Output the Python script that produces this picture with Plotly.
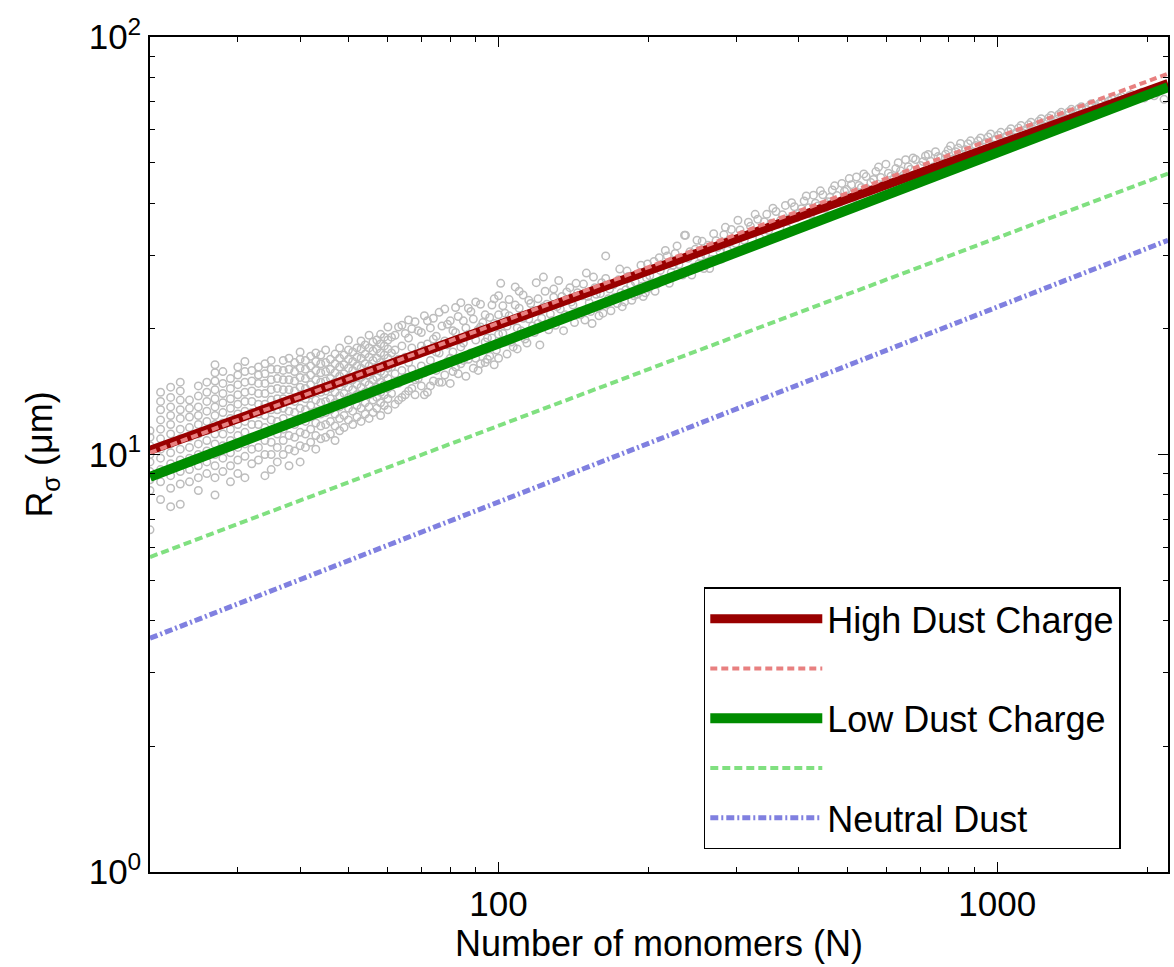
import plotly.graph_objects as go

# ---- measured aggregate sizes: small-N aggregates fall on integer columns ----
col_n = list(range(20, 61))
col_r = [
    [6.6, 8.2, 8.7, 9.1, 9.6, 10.0, 10.5, 11.0, 11.4],
    [7.8, 8.6, 9.2, 9.8, 10.3, 10.9, 11.5, 12.1, 12.8, 13.4, 14.1],
    [7.5, 8.3, 8.9, 9.5, 10.1, 10.6, 11.2, 11.8, 12.4, 13.0, 13.7, 14.5],
    [7.6, 8.5, 9.1, 9.7, 10.3, 10.9, 11.5, 12.2, 12.8, 13.5, 14.2, 14.9],
    [8.6, 9.2, 9.8, 10.4, 11.0, 11.6, 12.3, 12.9, 13.5],
    [8.2, 8.8, 9.4, 10.0, 10.6, 11.2, 11.8, 12.4, 13.0, 13.8, 14.6],
    [9.0, 9.6, 10.2, 10.8, 11.4, 12.0, 12.7, 13.4, 14.1, 14.9],
    [8.0, 8.8, 9.4, 10.0, 10.6, 11.2, 11.8, 12.4, 13.0, 13.6, 14.3, 15.0, 15.7, 16.4],
    [9.1, 9.8, 10.5, 11.2, 11.9, 12.6, 13.3, 14.0, 14.8, 15.8],
    [8.6, 9.4, 10.1, 10.8, 11.5, 12.2, 12.9, 13.6, 14.4, 15.2],
    [9.0, 9.7, 10.4, 11.1, 11.8, 12.5, 13.2, 13.9, 14.7, 15.5, 16.2],
    [8.8, 9.9, 10.6, 11.3, 12.0, 12.7, 13.4, 14.1, 14.9, 15.8, 16.7],
    [9.5, 10.3, 11.0, 11.8, 12.6, 13.4, 14.2, 15.0, 15.9],
    [9.7, 10.4, 11.1, 11.8, 12.5, 13.2, 14.0, 14.8, 15.5, 16.2],
    [8.9, 10.0, 10.8, 11.6, 12.4, 13.2, 14.0, 14.8, 15.6, 16.5],
    [9.2, 10.0, 10.7, 11.4, 12.1, 12.8, 13.5, 14.3, 15.1, 16.0, 16.8],
    [9.6, 10.4, 11.2, 12.0, 12.8, 13.6, 14.4, 15.2, 16.0],
    [10.0, 10.8, 11.5, 12.2, 12.9, 13.6, 14.3, 15.1, 15.9, 16.8],
    [9.4, 10.3, 11.1, 11.9, 12.7, 13.5, 14.3, 15.1, 16.0, 17.0],
    [10.2, 11.0, 11.8, 12.6, 13.4, 14.2, 15.0, 15.8, 16.6],
    [9.6, 10.5, 11.3, 12.1, 12.9, 13.7, 14.5, 15.3, 16.1, 16.9, 17.6],
    [10.4, 11.2, 12.0, 12.8, 13.6, 14.4, 15.2, 16.0, 16.8],
    [10.7, 11.5, 12.3, 13.1, 13.9, 14.7, 15.5, 16.3, 17.2],
    [10.3, 11.1, 11.9, 12.7, 13.5, 14.3, 15.1, 15.9, 16.7, 17.5],
    [10.9, 11.7, 12.5, 13.3, 14.1, 14.9, 15.7, 16.5, 17.3],
    [11.0, 11.8, 12.6, 13.4, 14.2, 15.0, 15.8, 16.6, 17.8],
    [11.2, 12.0, 12.8, 13.6, 14.4, 15.2, 16.0, 16.9],
    [10.8, 11.7, 12.5, 13.3, 14.1, 14.9, 15.7, 16.5, 17.4],
    [11.4, 12.2, 13.0, 13.8, 14.6, 15.4, 16.2, 17.0, 18.0],
    [11.6, 12.4, 13.2, 14.0, 14.8, 15.6, 16.4, 17.3],
    [12.1, 12.9, 13.7, 14.5, 15.3, 16.1, 16.9, 17.8, 18.8],
    [11.8, 12.7, 13.5, 14.3, 15.1, 15.9, 16.7, 17.6],
    [12.3, 13.1, 13.9, 14.7, 15.5, 16.3, 17.1, 18.0],
    [12.0, 12.9, 13.7, 14.5, 15.3, 16.1, 17.0, 17.9, 18.7],
    [12.5, 13.3, 14.1, 14.9, 15.7, 16.5, 17.4, 18.3],
    [12.2, 13.0, 13.9, 14.7, 15.5, 16.3, 17.1, 18.0, 19.3],
    [12.6, 13.5, 14.3, 15.1, 15.9, 16.8, 17.7, 18.6],
    [12.9, 13.7, 14.5, 15.3, 16.1, 17.0, 17.9, 18.8],
    [12.4, 13.3, 14.1, 14.9, 15.8, 16.6, 17.5, 18.4, 19.4],
    [13.1, 13.9, 14.7, 15.6, 16.4, 17.3, 18.2, 19.1],
    [12.8, 13.6, 14.4, 15.2, 16.1, 17.0, 17.9, 18.8, 20.2],
]

# ---- larger aggregates (N, R) ----
big_n = [61, 61, 62, 62, 62, 63, 63, 64, 64, 64, 65, 65, 66, 66, 67, 67, 68, 68, 68, 69,
         70, 70, 70, 71, 71, 72, 72, 73, 73, 74, 75, 75, 76, 76, 77, 78, 78, 79, 80, 80,
         81, 82, 82, 83, 84, 85, 85, 86, 87, 88, 88, 89, 90, 90, 91, 92, 93, 94, 94, 95,
         96, 97, 98, 98, 99, 100, 100,
         102, 103, 104, 105, 106, 107, 108, 109, 110, 111, 112, 114, 115, 116, 118, 119,
         120, 121, 123, 124, 126, 127, 129, 130, 132, 133, 135, 137, 138, 140, 142, 143,
         145, 147, 149, 150, 152, 154, 156, 158, 160, 162, 164, 166, 168, 170, 173, 175,
         177, 180, 182, 185, 188, 190, 193, 195, 198, 200,
         203, 206, 210, 213, 216, 220, 224, 228, 232, 236, 240, 244, 248, 252, 256, 260,
         265, 270, 275, 280, 285, 290, 296, 302, 308, 314, 320, 327, 334, 341, 348, 355,
         363, 371, 379, 387, 396, 405, 414, 423, 432, 442, 452, 462, 472, 483, 494, 505, 516,
         528, 540, 552, 565, 578, 591, 605, 619, 633, 648, 663, 678, 694, 710, 727, 744,
         761, 779, 797, 816, 835, 854, 874, 895, 916, 937, 959, 982, 1005, 1029, 1053,
         1078, 1103, 1129, 1156, 1183, 1211, 1239, 1268, 1298, 1329, 1360, 1392, 1425,
         1458, 1492, 1527, 1563, 1600, 1638, 1676, 1716, 1756, 1797, 1839, 1882, 1926,
         1971, 2017, 2064, 2112]
big_r = [14.0, 17.5, 13.2, 15.6, 19.3, 14.8, 16.9, 13.7, 18.2, 20.4, 15.3, 17.1, 14.2, 19.0,
         16.0, 18.0, 13.9, 15.1, 20.8, 17.4, 14.6, 16.3, 19.6, 15.7, 21.5, 14.1, 18.4, 16.8,
         20.1, 15.0, 17.6, 19.2, 14.9, 21.9, 16.4, 18.7, 15.5, 20.5, 14.8, 17.0, 19.8, 16.2,
         22.5, 15.6, 18.1, 20.9, 16.8, 15.4, 19.4, 17.5, 22.0, 16.1, 18.8, 23.2, 15.9, 20.2,
         17.9, 16.6, 21.6, 19.0, 17.2, 22.8, 16.4, 20.6, 18.4, 24.0, 17.0,
         19.5, 21.8, 17.4, 23.5, 18.6, 20.9, 25.2, 17.9, 22.4, 19.8, 24.1, 18.5, 21.1, 23.0,
         19.6, 25.8, 20.6, 18.3, 22.6, 24.6, 19.9, 21.7, 23.8, 20.4, 26.1, 22.3, 19.8, 24.5,
         21.4, 23.2, 20.7, 25.7, 22.0, 24.0, 21.0, 27.2, 23.1, 20.6, 25.1, 22.5, 24.3, 21.8,
         26.4, 23.6, 22.1, 25.5, 23.0, 27.8, 22.6, 24.8, 26.7, 23.4, 25.9, 24.2, 28.4, 23.9,
         26.5, 25.0,
         27.9, 24.6, 29.6, 26.3, 30.8, 25.7, 28.4, 31.6, 27.1, 33.5, 29.5, 26.9, 31.0, 28.6,
         32.4, 30.1, 27.9, 33.8, 31.3, 29.4, 35.0, 32.2, 30.3, 36.4, 33.6, 31.4, 35.2, 37.6,
         33.0, 36.1, 34.4, 38.9, 35.6, 37.5, 34.8, 40.1, 36.9, 38.8, 41.6, 37.6, 40.0, 42.8,
         38.9, 41.3, 44.0, 40.2, 42.7, 45.8, 41.3,
         44.1, 47.0, 42.6, 45.6, 48.8, 44.2, 47.2, 45.5, 50.0, 46.6, 48.9, 51.3, 47.4, 50.3,
         52.3, 48.8, 51.7, 49.9, 53.6, 51.0, 54.2, 52.3, 55.5, 53.1, 56.4, 54.5, 57.6, 55.1,
         58.2, 56.4, 59.3, 57.6, 60.5, 58.8, 61.6, 60.0, 62.8, 61.1, 64.0, 62.3, 65.2, 63.6,
         66.2, 64.6, 67.4, 65.6, 68.2, 66.9, 69.2, 67.9, 70.3, 68.8, 71.4, 69.8, 72.3, 70.7,
         73.2, 71.4, 73.9, 72.3, 74.6]

# ---- second batch of larger aggregates (N, R) ----
more_n = [61, 61, 62, 63, 63, 64, 65, 65, 66, 66, 67, 67, 68, 69, 69, 70, 71, 71, 72, 72,
          73, 74, 74, 75, 76, 77, 77, 78, 79, 79, 80, 81, 81, 82, 83, 84, 84, 85, 86, 87,
          87, 88, 89, 90, 91, 92, 92, 93, 94, 95, 96, 97, 98, 99, 100, 100,
          101, 102, 103, 104, 105, 107, 108, 109, 110, 112, 113, 115, 117, 118, 120, 122,
          123, 125, 128, 129, 131, 134, 136, 139, 141, 144, 146, 148, 151, 153, 155, 157,
          159, 161, 164, 165, 167, 171, 174, 176, 179, 181, 184, 187, 191, 194, 197, 199,
          201, 205, 208, 211, 215, 218, 222, 226, 230, 234, 237, 242, 246, 250, 254, 258,
          263, 268, 273, 278, 283, 288, 293, 299, 305, 311, 317, 324, 331, 338, 345, 352,
          360, 368, 376, 384, 392, 401, 410, 419, 428, 437, 447, 457, 467, 477, 488, 499,
          510, 522, 534, 546, 558, 571, 584,
          598, 612, 626, 640, 655, 670, 686, 702, 718, 735, 752, 770, 788, 806, 825, 844,
          864, 884, 905, 926, 948, 970, 993, 1017, 1041, 1065, 1090, 1116, 1142, 1169,
          1197, 1225, 1254, 1283, 1313, 1344, 1376, 1408, 1441, 1475, 1509, 1545, 1581,
          1619, 1657, 1696, 1736, 1776, 1818, 1861, 1904, 1949, 1994, 2040, 2088, 2137, 2160]
more_r = [16.2, 19.1, 17.8, 13.5, 20.2, 15.9, 13.9, 19.5, 16.6, 21.0, 14.4, 20.0, 17.3, 15.2,
          19.8, 18.2, 13.9, 17.8, 16.0, 20.9, 14.6, 18.9, 21.2, 15.9, 17.5, 14.9, 20.3, 22.3,
          16.7, 18.3, 20.9, 15.8, 17.6, 19.6, 21.4, 16.5, 23.1, 18.5, 20.1, 16.9, 22.4, 19.3,
          21.1, 17.0, 19.9, 16.5, 22.9, 20.7, 18.6, 16.9, 21.3, 19.0, 23.6, 17.8, 21.6, 19.4,
          25.7, 22.7, 18.6, 20.3, 21.5, 18.1, 22.8, 20.1, 24.6, 21.2, 18.9, 23.4, 20.3, 22.1,
          23.6, 21.2, 26.6, 22.9, 20.9, 24.9, 22.6, 23.9, 21.6, 25.1, 22.8, 24.4, 21.6, 25.6,
          23.9, 22.0, 26.6, 24.2, 21.5, 25.8, 29.9, 22.9, 24.9, 23.8, 26.2, 24.4, 23.2, 27.5,
          25.4, 24.0, 27.0, 25.3, 24.4, 28.6,
          26.8, 29.0, 25.6, 27.6, 26.1, 29.9, 27.3, 30.3, 28.5, 26.9, 33.5, 30.6, 28.1, 32.6,
          29.8, 27.9, 31.7, 29.3, 32.5, 30.6, 33.6, 30.8, 34.6, 32.0, 34.5, 32.6, 36.0, 33.9,
          36.6, 34.8, 37.6, 35.8, 38.2, 36.4, 39.5, 36.8, 39.2, 37.9, 40.5, 39.0, 41.8, 39.4,
          41.9, 40.3, 43.0, 41.7, 44.6, 43.1, 44.3, 46.2, 43.6, 46.3, 44.8, 47.6, 46.1,
          49.6, 46.4, 48.4, 47.8, 50.8, 48.2, 50.9, 49.2, 51.9, 50.4, 53.1, 51.4, 52.4, 54.8,
          53.1, 55.6, 53.7, 56.4, 55.0, 57.3, 56.0, 58.6, 56.9, 59.1, 57.8, 60.3, 58.9, 61.4,
          60.1, 62.5, 61.3, 63.7, 62.6, 64.9, 63.5, 66.0, 64.9, 67.1, 65.8, 68.1, 67.0, 69.2,
          68.1, 70.2, 69.0, 71.1, 70.0, 72.0, 71.0, 72.8, 71.9, 73.7, 72.6, 74.3, 73.4, 75.1,
          70.9]

# ---- power-law fits, evaluated at the ends of the N range ----
fit_n = [20, 2200]
high_fit = [10.23, 77.4]
high_model = [10.1, 81.7]
low_fit = [8.84, 75.8]
low_model = [5.68, 47.1]
neutral_model = [3.63, 32.6]

pts_n, pts_r = [], []
for n, rs in zip(col_n, col_r):
    pts_n += [n] * len(rs)
    pts_r += rs
pts_n += big_n + more_n
pts_r += big_r + more_r

fig = go.Figure()
fig.add_trace(go.Scatter(
    x=pts_n, y=pts_r, mode="markers", showlegend=False, hoverinfo="skip",
    marker=dict(symbol="circle-open", size=7.5, color="#bdbdbd",
                line=dict(width=1.5, color="#bdbdbd")),
))

lines = [
    ("High Dust Charge", high_fit, "#990000", 9, "solid"),
    (" ", high_model, "#e88080", 4, "7px,4px"),
    ("Low Dust Charge", low_fit, "#008c00", 10, "solid"),
    ("  ", low_model, "#80e080", 4, "8px,4px"),
    ("Neutral Dust", neutral_model, "#8080e0", 5, "8px,3px,2px,3px"),
]
for name, vals, color, width, dash in lines:
    fig.add_trace(go.Scatter(
        x=fit_n, y=vals, mode="lines", name=name,
        line=dict(color=color, width=width, dash=dash),
    ))

font_family = "Liberation Sans, Arial, sans-serif"
axis_common = dict(
    type="log", showline=True, linecolor="black", linewidth=1.5, mirror="allticks",
    ticks="inside", ticklen=10, tickwidth=1, tickcolor="black", showgrid=False,
    zeroline=False, tickfont=dict(family=font_family, size=35, color="black"),
)

fig.update_layout(
    width=1174, height=967,
    margin=dict(l=150, r=4, t=37, b=95),
    paper_bgcolor="white", plot_bgcolor="white",
    font=dict(family=font_family, color="black"),
    xaxis=dict(
        **axis_common, range=[1.30103, 3.34242],
        tickvals=[100, 1000], ticktext=["100", "1000"],
        minor=dict(ticks="inside", ticklen=5, tickwidth=1, tickcolor="black",
                   tickvals=[30, 40, 50, 60, 70, 80, 90, 200, 300, 400, 500, 600, 700, 800, 900, 2000]),
        title=dict(text="Number of monomers (N)", font=dict(family=font_family, size=36), standoff=2),
    ),
    yaxis=dict(
        **axis_common, range=[0, 2],
        tickvals=[1, 10, 100], ticktext=["10<sup>0</sup>", "10<sup>1</sup>", "10<sup>2</sup>"],
        minor=dict(ticks="inside", ticklen=5, tickwidth=1, tickcolor="black",
                   tickvals=[2, 3, 4, 5, 6, 7, 8, 9, 20, 30, 40, 50, 60, 70, 80, 90]),
        title=dict(text="R<sub>σ</sub> (μm)", font=dict(family=font_family, size=36), standoff=25),
    ),
    legend=dict(
        x=0.544, y=0.341, xanchor="left", yanchor="top",
        bgcolor="white", bordercolor="black", borderwidth=1.5,
        font=dict(family=font_family, size=36, color="black"),
        itemwidth=112, tracegroupgap=0,
    ),
)

fig.write_html("out.html")
